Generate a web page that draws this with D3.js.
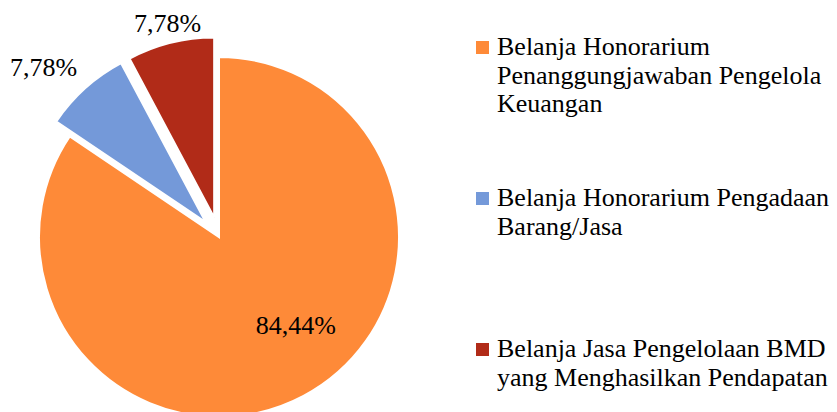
<!DOCTYPE html>
<html>
<head>
<meta charset="utf-8">
<script src="https://cdn.jsdelivr.net/npm/d3@7/dist/d3.min.js"></script>
<style>
  html, body { margin: 0; padding: 0; background: #fff; }
</style>
</head>
<body>
<div id="wrapper"></div>
<script>
const categories = [
  "Belanja Honorarium Penanggungjawaban Pengelola Keuangan",
  "Belanja Honorarium Pengadaan Barang/Jasa",
  "Belanja Jasa Pengelolaan BMD yang Menghasilkan Pendapatan"
];
const legendLines = [
  ["Belanja Honorarium", "Penanggungjawaban Pengelola", "Keuangan"],
  ["Belanja Honorarium Pengadaan", "Barang/Jasa"],
  ["Belanja Jasa Pengelolaan BMD", "yang Menghasilkan Pendapatan"]
];
const values = [84.44, 7.78, 7.78];
const valueLabels = ["84,44%", "7,78%", "7,78%"];
const colors = ["#FE8A38", "#7499D9", "#B12B18"];
const exploded = [false, true, true];

const drawChart = () => {
  const dimensions = {
    width: 837,
    height: 412,
    cx: 219,
    cy: 237,
    radius: 180,
    explode: 20,
  };
  const font = "Liberation Serif";

  const wrapper = d3.select("#wrapper")
    .append("svg")
      .attr("width", dimensions.width)
      .attr("height", dimensions.height)
      .style("display", "block");

  const pie = d3.pie().sort(null).value(d => d)(values);
  const arc = d3.arc().innerRadius(0).outerRadius(dimensions.radius);

  const bounds = wrapper.append("g")
    .attr("transform", `translate(${dimensions.cx},${dimensions.cy})`);

  const midAngle = d => (d.startAngle + d.endAngle) / 2;
  const offset = (d, i) => {
    if (!exploded[i]) return [0, 0];
    const a = midAngle(d);
    return [Math.sin(a) * dimensions.explode, -Math.cos(a) * dimensions.explode];
  };

  const slices = bounds.selectAll("g.slice")
    .data(pie)
    .join("g")
      .attr("class", "slice")
      .attr("transform", (d, i) => `translate(${offset(d, i)})`);

  slices.append("path")
    .attr("d", arc)
    .attr("fill", (d, i) => colors[i])
    .attr("stroke", "#fff")
    .attr("stroke-width", 2)
    .attr("stroke-linejoin", "miter");

  // labels: outside for the small exploded slices, inside for the big one
  slices.append("text")
    .style("font-family", font)
    .attr("font-size", 26)
    .attr("fill", "#000")
    .each(function (d, i) {
      const a = midAngle(d);
      const t = d3.select(this).text(valueLabels[i]);
      if (exploded[i]) {
        const r = dimensions.radius + 12;
        const x = Math.sin(a) * r;
        const y = -Math.cos(a) * r;
        t.attr("x", x).attr("y", y + (Math.abs(Math.sin(a)) > 0.5 ? -3 : 1))
         .attr("text-anchor", Math.abs(Math.sin(a)) > 0.5 ? "end" : "middle");
      } else {
        const la = a - 13 * Math.PI / 180;
        const r = dimensions.radius * 0.65;
        t.attr("x", Math.sin(la) * r)
         .attr("y", -Math.cos(la) * r)
         .attr("dy", "0.35em")
         .attr("text-anchor", "middle");
      }
    });

  // legend
  const legend = wrapper.append("g")
    .attr("transform", "translate(476,41)");

  const items = legend.selectAll("g")
    .data(categories)
    .join("g")
      .attr("transform", (d, i) => `translate(0,${i * 151})`);

  items.append("rect")
    .attr("width", 13)
    .attr("height", 13)
    .attr("fill", (d, i) => colors[i]);

  items.append("text")
    .style("font-family", font)
    .attr("font-size", 26)
    .attr("fill", "#000")
    .selectAll("tspan")
    .data((d, i) => legendLines[i])
    .join("tspan")
      .attr("x", 21)
      .attr("y", (d, j) => 14 + j * 28.7)
      .text(d => d);
};

drawChart();
</script>
</body>
</html>
